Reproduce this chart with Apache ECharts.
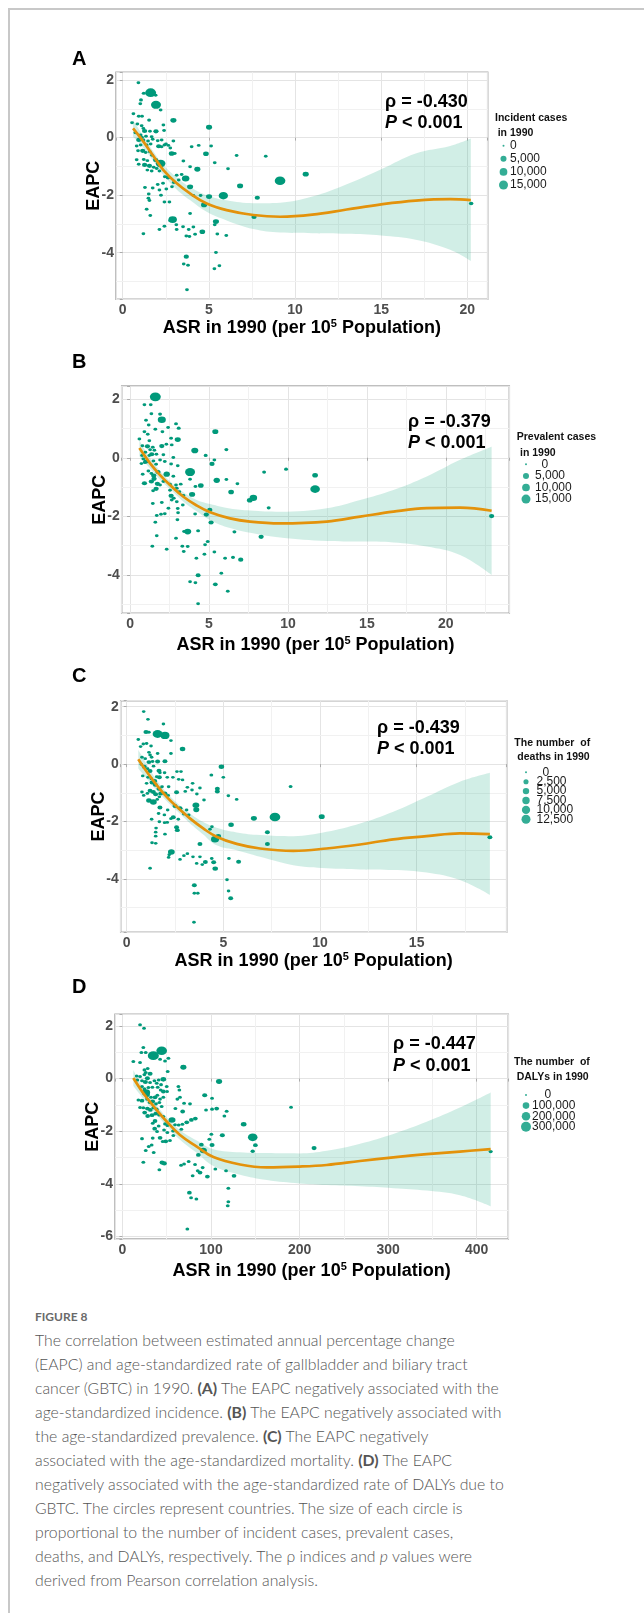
<!DOCTYPE html>
<html>
<head>
<meta charset="utf-8">
<title>Figure 8</title>
<script src="https://cdn.jsdelivr.net/npm/echarts@6/dist/echarts.min.js"></script>
<style>
  html, body { margin: 0; padding: 0; background: #fff; }
  #page { position: relative; width: 644px; height: 1613px; overflow: hidden; background: #fff; }
  #frame { position: absolute; left: 8px; top: 8px; width: 640px; height: 1610px;
           border-left: 2px solid #c8c8c8; border-top: 2px solid #c8c8c8; }
  #chart { position: absolute; left: 0; top: 0; width: 644px; height: 1290px; }
  #figlab { position: absolute; left: 35px; top: 1309px; line-height: 16px; font-size: 12px;
            font-family: Lato, "Noto Sans", sans-serif; font-weight: 700; color: #6a6a6a; }
  #cap { position: absolute; left: 35px; top: 1328px; line-height: 24px; font-size: 15.8px; white-space: nowrap;
         font-family: Lato, "Noto Sans", sans-serif; font-weight: 300; color: #555; }
  #cap b { font-weight: 700; }
</style>
</head>
<body>
<div id="page">
  <div id="frame"></div>
  <div id="chart"></div>
  <div id="figlab">FIGURE 8</div>
  <div id="cap">The correlation between estimated annual percentage change<br>(EAPC) and age-standardized rate of gallbladder and biliary tract<br>cancer (GBTC) in 1990. <b>(A)</b> The EAPC negatively associated with the<br>age-standardized incidence. <b>(B)</b> The EAPC negatively associated with<br>the age-standardized prevalence. <b>(C)</b> The EAPC negatively<br>associated with the age-standardized mortality. <b>(D)</b> The EAPC<br>negatively associated with the age-standardized rate of DALYs due to<br>GBTC. The circles represent countries. The size of each circle is<br>proportional to the number of incident cases, prevalent cases,<br>deaths, and DALYs, respectively. The &rho; indices and <i>p</i> values were<br>derived from Pearson correlation analysis.</div>
</div>
<script>
// ---- data: [ASR in 1990, EAPC, count in 1990] per country ----
var ptsA = [
  [0.91,1.91,300],[1.62,1.56,14000],[1.91,1.47,300],[1.22,1.54,400],[1.06,1.31,400],[1.02,1.18,300],
  [1.93,1.14,11000],[2.20,0.96,300],[0.62,0.83,300],[0.93,0.74,300],[1.12,0.74,300],[1.53,0.61,400],
  [2.94,0.60,2500],[0.54,0.52,300],[0.85,0.47,300],[1.10,0.41,300],[2.36,0.44,300],[5.01,0.36,2500],
  [1.20,0.32,300],[1.27,0.23,1500],[1.58,0.22,300],[1.93,0.22,1500],[2.40,0.25,300],[0.73,0.17,300],
  [1.04,0.09,300],[1.35,0.05,300],[1.68,0.03,300],[1.12,0.00,300],[0.93,-0.08,1500],[1.20,-0.08,300],
  [1.47,-0.12,300],[1.74,-0.06,300],[2.03,-0.11,300],[2.26,-0.08,300],[2.94,-0.12,300],[0.81,-0.29,300],
  [1.04,-0.26,300],[1.39,-0.26,300],[1.62,-0.22,300],[2.09,-0.30,1500],[2.26,-0.32,300],[2.42,-0.26,300],
  [2.51,-0.22,300],[2.65,-0.27,300],[2.76,-0.36,300],[4.00,-0.32,300],[4.41,-0.27,300],[5.13,-0.29,300],
  [0.89,-0.46,300],[1.16,-0.46,1500],[1.33,-0.52,300],[1.57,-0.49,300],[1.70,-0.61,300],[2.84,-0.55,2000],
  [3.02,-0.55,300],[4.83,-0.56,2000],[0.81,-0.77,300],[1.22,-0.76,300],[1.43,-0.80,300],[1.91,-0.78,1500],
  [3.52,-0.81,300],[5.34,-0.87,300],[6.61,-0.62,300],[8.30,-0.65,300],[0.93,-0.93,300],[1.27,-0.95,1500],
  [1.55,-0.98,1500],[1.80,-1.03,300],[2.20,-0.90,10000],[1.97,-1.07,300],[3.91,-1.01,300],[4.33,-1.10,2500],
  [6.11,-1.08,300],[1.43,-1.13,300],[1.68,-1.16,300],[2.13,-1.16,300],[2.44,-1.36,300],[2.63,-1.38,1500],
  [3.13,-1.31,300],[3.42,-1.28,300],[3.65,-1.42,5000],[2.96,-1.56,300],[3.25,-1.47,300],[2.03,-1.63,300],
  [2.34,-1.59,300],[2.53,-1.79,300],[2.86,-1.71,300],[3.91,-1.71,2500],[6.81,-1.68,2500],[1.29,-1.73,300],
  [1.74,-1.75,300],[2.13,-1.82,300],[1.51,-1.96,300],[2.22,-2.00,300],[4.10,-2.01,300],[4.52,-2.01,300],
  [5.01,-2.05,2500],[5.84,-2.02,9000],[7.81,-2.09,1500],[1.49,-2.11,300],[1.55,-2.19,300],[2.42,-2.24,300],
  [2.71,-2.24,300],[4.72,-2.34,2500],[1.39,-2.49,300],[1.60,-2.71,300],[3.91,-2.64,300],[7.62,-2.76,1500],
  [2.90,-2.85,7000],[2.75,-2.89,300],[2.42,-3.08,300],[3.11,-3.03,300],[3.50,-3.10,300],[4.10,-3.11,300],
  [2.13,-3.19,300],[5.41,-2.92,2500],[5.34,-3.03,300],[3.13,-3.19,300],[3.83,-3.19,300],[4.62,-3.27,2000],
  [1.20,-3.34,300],[3.69,-3.42,300],[3.87,-3.44,300],[4.20,-3.36,300],[5.49,-3.35,300],[6.01,-3.40,300],
  [5.41,-3.99,300],[3.69,-4.14,1500],[3.54,-4.39,300],[3.79,-4.44,300],[5.61,-4.45,300],[5.32,-4.56,300],
  [3.73,-5.29,300],[9.13,-1.50,13000],[10.62,-1.27,2500],[20.22,-2.29,800]
];
var ptsB = [
  [1.60,2.08,14000],[0.91,1.81,300],[1.31,1.81,300],[1.35,1.50,300],[1.90,1.49,400],[1.01,1.28,300],
  [2.01,1.30,6000],[2.91,1.16,400],[1.18,1.12,300],[1.60,0.97,300],[2.41,1.03,300],[3.08,1.01,400],
  [0.91,0.89,300],[2.05,0.89,300],[1.12,0.80,300],[5.40,0.89,2500],[0.59,0.64,300],[1.22,0.58,300],
  [2.60,0.67,300],[3.02,0.62,2500],[0.78,0.41,300],[1.10,0.39,1500],[1.44,0.36,300],[2.01,0.40,1500],
  [2.64,0.44,300],[2.30,0.46,300],[4.10,0.25,4000],[6.10,0.28,400],[0.97,0.19,300],[1.27,0.27,300],
  [1.54,0.26,300],[0.76,0.08,300],[0.84,-0.04,300],[1.01,-0.13,1500],[1.22,0.08,300],[1.37,0.12,1500],
  [1.67,0.12,300],[2.11,0.10,300],[2.74,0.01,300],[4.79,0.08,400],[0.93,-0.16,300],[0.72,-0.20,300],
  [1.48,-0.11,300],[1.65,-0.22,300],[1.90,-0.08,300],[2.20,-0.13,300],[2.60,-0.21,300],[3.02,-0.27,300],
  [5.19,-0.21,1500],[5.34,-0.08,300],[3.80,-0.49,11000],[8.49,-0.49,400],[0.80,-0.56,300],[1.16,-0.45,300],
  [1.35,-0.54,300],[1.50,-0.61,1500],[1.77,-0.49,1500],[2.32,-0.56,3000],[2.74,-0.63,300],[3.80,-0.73,300],
  [1.35,-0.81,1500],[1.52,-0.72,1500],[1.73,-0.89,1500],[0.91,-0.87,1500],[1.90,-0.93,300],[2.11,-0.81,300],
  [2.53,-0.90,300],[2.91,-0.93,300],[3.21,-0.90,300],[4.14,-0.98,300],[4.48,-0.95,2000],[5.49,-0.77,3000],
  [6.10,-0.74,300],[6.80,-0.89,300],[6.40,-1.17,2000],[1.46,-1.13,300],[1.65,-1.06,1500],[2.53,-1.11,300],
  [2.96,-1.04,300],[3.12,-1.16,300],[3.93,-1.25,2500],[3.38,-1.29,300],[2.60,-1.30,1500],[2.77,-1.38,300],
  [7.58,-1.45,2000],[7.81,-1.37,5000],[1.44,-1.56,300],[2.01,-1.53,300],[2.64,-1.44,300],[2.96,-1.50,300],
  [3.34,-1.61,300],[2.43,-1.72,300],[3.02,-1.73,300],[5.05,-1.78,1500],[8.78,-1.71,400],[1.69,-1.97,300],
  [1.96,-1.93,300],[2.20,-1.91,300],[3.04,-1.88,300],[4.12,-1.92,300],[4.83,-1.94,1500],[5.13,-2.21,1500],
  [3.00,-2.12,300],[1.60,-2.20,300],[3.65,-2.52,4000],[3.42,-2.52,300],[4.31,-2.49,400],[6.61,-2.53,400],
  [8.30,-2.70,1500],[1.69,-2.66,300],[2.91,-2.75,300],[4.92,-2.86,400],[1.41,-3.02,300],[2.32,-3.12,300],
  [3.31,-3.02,300],[3.65,-3.03,300],[4.75,-2.97,300],[3.40,-3.20,300],[4.20,-3.43,300],[4.71,-3.29,300],
  [5.34,-3.22,300],[6.02,-3.43,300],[6.52,-3.40,400],[7.01,-3.48,1500],[5.78,-3.94,300],[4.31,-4.01,1200],
  [3.80,-4.23,300],[4.14,-4.27,300],[5.40,-4.32,1000],[6.19,-4.56,300],[4.31,-4.98,300],
  [9.88,-0.39,400],[11.72,-0.60,2000],[11.72,-1.07,10000],[22.90,-1.99,1500]
];
var ptsC = [
  [0.88,1.83,200],[1.10,1.56,200],[1.90,1.40,200],[1.00,1.12,1200],[1.15,1.11,200],[1.60,1.05,9000],
  [1.98,1.00,7000],[2.29,0.82,200],[0.60,0.86,200],[1.03,0.72,200],[2.89,0.53,1500],[0.86,0.70,200],
  [0.72,0.61,200],[1.26,0.63,200],[1.60,0.37,200],[2.29,0.37,200],[1.15,0.41,200],[1.21,0.32,200],
  [0.79,0.24,200],[0.96,0.19,200],[1.29,0.24,200],[1.15,0.07,1000],[1.34,0.09,200],[1.60,0.09,1000],
  [1.98,0.10,1000],[0.76,-0.01,200],[0.91,-0.09,1000],[1.08,-0.16,200],[1.21,-0.24,1000],[1.39,-0.07,200],
  [1.67,-0.23,1000],[1.72,-0.30,200],[1.96,-0.30,200],[2.60,-0.26,200],[2.81,-0.26,200],[4.90,-0.09,1500],
  [5.00,-0.46,200],[4.38,-0.38,300],[0.83,-0.41,200],[1.10,-0.46,200],[1.27,-0.51,200],[1.45,-0.59,1000],
  [1.55,-0.44,200],[1.69,-0.46,1000],[2.10,-0.46,200],[2.39,-0.46,200],[2.69,-0.53,200],[2.89,-0.55,200],
  [3.41,-0.67,200],[1.03,-0.67,200],[1.31,-0.64,1000],[1.48,-0.72,1000],[1.83,-0.79,200],[1.67,-0.86,1000],
  [2.17,-0.79,200],[3.14,-0.81,200],[3.38,-0.90,200],[3.79,-0.83,200],[4.69,-0.86,1000],[4.69,-0.95,1000],
  [5.26,-1.10,200],[5.69,-1.23,200],[0.79,-0.97,200],[1.07,-1.02,200],[0.88,-1.09,200],[1.21,-0.93,1000],
  [1.38,-0.97,1000],[1.50,-1.05,1000],[1.76,-1.02,1000],[1.69,-1.14,200],[1.98,-1.02,1000],[2.15,-1.09,200],
  [2.58,-0.98,1000],[3.03,-0.95,200],[3.63,-1.04,200],[4.00,-1.25,200],[1.15,-1.27,1500],[1.38,-1.32,3000],
  [1.58,-1.23,200],[1.72,-1.51,1000],[2.12,-1.60,200],[2.50,-1.46,1000],[2.76,-1.54,1000],[3.10,-1.60,200],
  [3.21,-1.77,200],[3.58,-1.43,3000],[3.60,-1.59,2000],[1.65,-1.72,200],[1.95,-1.77,200],[2.29,-1.90,200],
  [2.41,-1.85,1000],[2.67,-1.92,200],[1.29,-1.92,200],[1.69,-2.01,200],[1.96,-2.04,200],[2.10,-2.03,200],
  [2.58,-2.20,1000],[2.62,-2.30,1000],[2.95,-1.74,200],[3.65,-1.60,200],[4.31,-2.27,200],[4.41,-2.18,200],
  [6.58,-1.89,2000],[7.67,-1.84,11000],[5.40,-2.11,1500],[1.52,-2.23,200],[1.50,-2.37,200],[1.50,-2.51,200],
  [1.98,-2.44,200],[7.28,-2.37,1000],[4.74,-2.51,1500],[4.57,-2.62,5000],[3.79,-2.78,1000],[7.28,-2.78,1000],
  [1.31,-2.74,200],[1.50,-2.76,200],[2.31,-3.06,3000],[2.20,-3.16,200],[2.17,-3.25,200],[2.76,-3.32,200],
  [2.96,-3.19,200],[3.14,-3.12,200],[3.43,-3.23,200],[3.62,-3.46,200],[3.79,-3.23,200],[4.07,-3.41,1000],
  [4.40,-3.29,200],[4.50,-3.42,1000],[4.58,-3.64,1500],[3.91,-3.50,200],[5.29,-3.29,200],[5.79,-3.40,1000],
  [1.21,-3.63,200],[5.19,-4.03,200],[3.50,-4.22,1000],[3.50,-4.50,200],[3.68,-4.50,200],[5.27,-4.42,200],
  [5.38,-4.67,1000],[3.48,-5.51,200],[8.48,-0.78,300],[10.09,-1.83,2000],[18.79,-2.55,1000]
];
var ptsD = [
  [19.9,2.04,5000],[24.4,1.91,5000],[23.6,1.18,5000],[21.4,0.99,5000],[26.3,0.99,5000],[34.9,0.87,220000],
  [44.3,1.06,200000],[42.5,0.73,5000],[48.1,0.67,5000],[51.9,0.77,5000],[12.3,0.65,5000],[19.9,0.61,5000],
  [68.8,0.43,40000],[24.8,0.33,5000],[28.5,0.38,5000],[26.3,0.23,5000],[31.2,0.18,20000],[51.1,0.27,5000],
  [16.1,0.10,5000],[19.9,0.08,5000],[24.8,0.15,5000],[28.2,0.01,20000],[46.2,-0.03,30000],[109.1,-0.11,40000],
  [16.9,-0.05,5000],[22.1,-0.08,5000],[25.9,-0.13,20000],[31.2,-0.15,5000],[36.1,-0.08,5000],[40.9,-0.05,5000],
  [38.7,-0.18,5000],[43.6,-0.23,5000],[63.2,-0.30,5000],[64.3,-0.43,5000],[50.0,-0.30,5000],[22.1,-0.30,5000],
  [24.8,-0.39,5000],[29.3,-0.34,5000],[33.8,-0.33,5000],[39.8,-0.33,5000],[43.2,-0.43,5000],[46.2,-0.49,15000],
  [50.4,-0.49,5000],[26.6,-0.53,100000],[28.2,-0.62,20000],[32.3,-0.71,5000],[36.8,-0.71,15000],[39.4,-0.63,5000],
  [42.5,-0.78,5000],[46.2,-0.71,5000],[62.0,-0.78,5000],[65.0,-0.71,5000],[92.9,-0.63,20000],[101.2,-0.75,5000],
  [18.0,-0.81,5000],[22.1,-0.84,15000],[27.8,-0.78,5000],[30.8,-0.91,5000],[34.2,-0.87,15000],[37.9,-0.96,5000],
  [41.7,-0.91,5000],[69.6,-0.94,5000],[76.3,-0.96,5000],[19.9,-1.10,5000],[23.6,-1.11,5000],[28.2,-1.14,15000],
  [31.5,-1.19,15000],[34.9,-1.11,5000],[38.7,-1.16,5000],[44.3,-1.06,5000],[59.8,-1.14,5000],[94.4,-1.19,5000],
  [101.2,-1.16,5000],[106.4,-1.14,15000],[68.0,-1.25,15000],[117.7,-1.24,5000],[25.1,-1.29,15000],[28.5,-1.42,15000],
  [33.4,-1.39,15000],[37.6,-1.33,15000],[41.3,-1.38,5000],[46.2,-1.44,5000],[56.0,-1.57,60000],[63.5,-1.76,5000],
  [72.6,-1.66,15000],[77.8,-1.57,15000],[82.3,-1.52,15000],[115.1,-1.42,5000],[36.8,-1.61,15000],[34.2,-1.70,5000],
  [40.9,-1.80,5000],[48.1,-1.72,5000],[50.7,-1.78,5000],[59.4,-1.75,5000],[67.7,-1.73,5000],[136.9,-1.73,30000],
  [36.4,-1.90,15000],[39.1,-2.01,5000],[47.0,-1.95,5000],[50.7,-2.05,5000],[57.1,-1.99,5000],[66.5,-1.92,5000],
  [100.4,-2.11,5000],[112.8,-2.15,20000],[22.1,-2.28,5000],[34.2,-2.26,5000],[42.5,-2.25,15000],[45.5,-2.39,5000],
  [48.9,-2.38,15000],[53.7,-2.35,5000],[57.5,-2.16,5000],[98.1,-2.30,5000],[147.1,-2.23,150000],[33.0,-2.52,5000],
  [29.7,-2.58,5000],[26.3,-2.73,5000],[35.3,-2.81,5000],[89.1,-2.51,15000],[101.2,-2.52,20000],[150.1,-2.53,15000],
  [91.4,-2.73,60000],[85.7,-2.90,15000],[147.1,-2.76,10000],[23.6,-3.18,5000],[44.7,-3.19,20000],[47.3,-3.22,20000],
  [41.7,-3.46,5000],[66.2,-3.29,5000],[69.6,-3.24,5000],[74.8,-3.15,5000],[82.0,-3.26,5000],[85.0,-3.50,5000],
  [87.6,-3.57,15000],[90.6,-3.38,5000],[95.9,-3.72,15000],[104.9,-3.43,5000],[117.0,-3.50,5000],[126.0,-3.69,15000],
  [79.3,-3.69,5000],[75.6,-4.33,15000],[77.5,-4.52,5000],[83.5,-4.57,5000],[119.6,-4.16,5000],[119.6,-4.68,5000],
  [118.9,-4.83,5000],[73.3,-5.71,5000],[190.4,-1.09,5000],[216.4,-2.64,20000],[415.8,-2.77,8000]
];

// ---- fitted curve with 95% band ----
var fitXA = [0.6, 1.2, 1.78, 2.36, 3.13, 3.9, 4.87, 6.03, 7.58, 9.13, 11, 13, 15, 17, 19, 20.2];
var fitA  = [0.32, -0.14, -0.64, -1.13, -1.59, -1.94, -2.29, -2.52, -2.69, -2.75, -2.68, -2.5, -2.32, -2.19, -2.14, -2.17];
var uprA  = [0.6, 0.05, -0.48, -0.95, -1.38, -1.72, -2.0, -2.18, -2.28, -2.26, -2.05, -1.62, -1.1, -0.55, -0.29, -0.03];
var lwrA  = [0.03, -0.35, -0.82, -1.3, -1.8, -2.17, -2.58, -2.88, -3.18, -3.3, -3.32, -3.34, -3.4, -3.55, -3.9, -4.29];

var fitXB = [0.59, 1.27, 1.9, 2.53, 3.38, 4.22, 5.07, 6.33, 7.6, 9.5, 12.46, 14.57, 16.68, 18.79, 20.9, 22.9];
var fitB  = [0.33, -0.19, -0.59, -0.93, -1.33, -1.63, -1.86, -2.07, -2.18, -2.24, -2.18, -2.01, -1.84, -1.72, -1.7, -1.81];
var uprB  = [0.6, -0.02, -0.45, -0.8, -1.18, -1.44, -1.58, -1.73, -1.8, -1.84, -1.72, -1.44, -1.1, -0.64, -0.07, 0.38];
var lwrB  = [0.05, -0.37, -0.75, -1.07, -1.5, -1.83, -2.13, -2.4, -2.56, -2.72, -2.84, -2.86, -2.89, -3.03, -3.32, -4.0];

var fitXC = [0.6, 1.03, 1.55, 2.07, 2.58, 3.27, 3.96, 4.65, 5.69, 6.9, 8.62, 10.34, 12.07, 13.79, 15.52, 17.24, 18.79];
var fitC  = [0.17, -0.26, -0.73, -1.14, -1.48, -1.89, -2.24, -2.53, -2.78, -2.94, -3.02, -2.94, -2.8, -2.62, -2.51, -2.41, -2.44];
var uprC  = [0.5, 0.0, -0.55, -0.99, -1.34, -1.72, -2.02, -2.22, -2.38, -2.47, -2.51, -2.36, -2.07, -1.66, -1.14, -0.61, -0.3];
var lwrC  = [-0.15, -0.5, -0.91, -1.29, -1.62, -2.06, -2.45, -2.83, -3.0, -3.23, -3.52, -3.63, -3.67, -3.69, -3.78, -4.04, -4.56];

var fitXD = [12.3, 23.6, 34.9, 50, 65, 83.9, 102.7, 132.8, 163, 199.8, 230.6, 268.3, 305.9, 343.5, 381.1, 415.8];
var fitD  = [0.02, -0.56, -1.04, -1.63, -2.14, -2.58, -2.98, -3.26, -3.37, -3.34, -3.28, -3.13, -2.99, -2.87, -2.77, -2.68];
var uprD  = [0.33, -0.36, -0.86, -1.47, -1.96, -2.35, -2.68, -2.8, -2.83, -2.84, -2.74, -2.47, -2.1, -1.64, -1.1, -0.53];
var lwrD  = [-0.28, -0.76, -1.22, -1.8, -2.32, -2.82, -3.32, -3.65, -3.85, -3.98, -4.04, -4.09, -4.16, -4.25, -4.43, -4.85];

// ---- size legend breaks ----
var legA = [0, 5000, 10000, 15000];
var legB = [0, 5000, 10000, 15000];
var legC = [0, 2500, 5000, 7500, 10000, 12500];
var legD = [0, 100000, 200000, 300000];

var rhoText = ['-0.430', '-0.379', '-0.439', '-0.447'];
var legTitles = [
  ['Incident cases', 'in 1990'],
  ['Prevalent cases', 'in 1990'],
  ['The number  of', 'deaths in 1990'],
  ['The number  of', 'DALYs in 1990']
];

var GREEN = '#00997A';
var ORANGE = '#E3920B';
var BAND = 'rgba(0,158,115,0.18)';
var FONT = '"Liberation Sans", Arial, Helvetica, sans-serif';

// layout of the four panels (pixels), axis ranges and legend placement
var panels = [
  { letter: 'A', pts: ptsA, fx: fitXA, fy: fitA, up: uprA, lo: lwrA, leg: legA, maxV: 15000, maxD: 9,
    grid: { left: 116, top: 72.3, width: 371.7, height: 227 }, xr: [-0.39, 21.18], yr: [-5.62, 2.27],
    xStep: 5, xSplit: 5, minorX: [2.5, 7.5, 12.5, 17.5], minorY: [-5, -3, -1, 1],
    letterTop: 49, rho: { left: 385, top: 91 }, nameGap: 19,
    legTitle: [[495, 117.7], [497.7, 133]], legGrid: { left: 497, top: 139.2, width: 13, height: 52.4 }, legMargin: 0, zeroPad: 0 },
  { letter: 'B', pts: ptsB, fx: fitXB, fy: fitB, up: uprB, lo: lwrB, leg: legB, maxV: 15000, maxD: 9,
    grid: { left: 121.7, top: 386, width: 387.6, height: 227.3 }, xr: [-0.53, 24.02], yr: [-5.31, 2.45],
    xStep: 5, xSplit: 5, minorX: [2.5, 7.5, 12.5, 17.5, 22.5], minorY: [-5, -3, -1, 1],
    letterTop: 352, rho: { left: 408, top: 411 }, nameGap: 22,
    legTitle: [[516.7, 437.3], [520, 452.7]], legGrid: { left: 519.5, top: 458.5, width: 13, height: 46.4 }, legMargin: 2.5, zeroPad: 6.5 },
  { letter: 'C', pts: ptsC, fx: fitXC, fy: fitC, up: uprC, lo: lwrC, leg: legC, maxV: 12500, maxD: 9,
    grid: { left: 120.7, top: 700.7, width: 386, height: 231.6 }, xr: [-0.31, 19.66], yr: [-5.86, 2.21],
    xStep: 5, xSplit: 4, minorX: [2.5, 7.5, 12.5, 17.5], minorY: [-5, -3, -1, 1],
    letterTop: 666, rho: { left: 377, top: 717 }, nameGap: 17,
    legTitle: [[514.3, 743.3], [517.3, 756.7]], legGrid: { left: 519.5, top: 767.6, width: 13, height: 56.4 }, legMargin: 4, zeroPad: 6 },
  { letter: 'D', pts: ptsD, fx: fitXD, fy: fitD, up: uprD, lo: lwrD, leg: legD, maxV: 300000, maxD: 10,
    grid: { left: 115, top: 1014.3, width: 393.3, height: 224.7 }, xr: [-8.4, 435.7], yr: [-6.09, 2.44],
    xStep: 100, xSplit: 5, minorX: [50, 150, 250, 350], minorY: [-5, -3, -1, 1],
    letterTop: 977, rho: { left: 393, top: 1033.4 }, nameGap: 22,
    legTitle: [[514, 1062.3], [516.7, 1076.7]], legGrid: { left: 520, top: 1089.7, width: 12, height: 42.4 }, legMargin: 0, zeroPad: 12.5 }
];

function dotSize(v, p) {
  return 2 + (p.maxD - 2) * Math.sqrt(v / p.maxV);
}

function stepFormatter(step) {
  return function (v) {
    var k = v / step;
    return Math.abs(k - Math.round(k)) < 1e-6 ? String(Math.round(v)) : '';
  };
}

var option = {
  animation: false,
  textStyle: { fontFamily: FONT },
  title: [], grid: [], xAxis: [], yAxis: [], series: []
};

panels.forEach(function (p, i) {
  var gi = option.grid.length;
  option.grid.push(Object.assign({ show: true, borderColor: '#ababab', borderWidth: 1.5, containLabel: false }, p.grid));

  option.xAxis.push({
    type: 'value', gridIndex: gi, min: p.xr[0], max: p.xr[1], splitNumber: p.xSplit,
    axisLine: { show: false },
    axisTick: { show: true, length: 3, lineStyle: { color: '#ababab', width: 1 } },
    axisLabel: { margin: 4, color: '#4d4d4d', fontWeight: 'bold', fontSize: 14, fontFamily: FONT, formatter: stepFormatter(p.xStep) },
    splitLine: { show: true, lineStyle: { color: '#e4e4e4', width: 1 } },
    name: 'ASR in 1990 (per 10{s|5} Population)', nameLocation: 'middle', nameGap: p.nameGap,
    nameTextStyle: { color: '#000', fontWeight: 'bold', fontSize: 18, fontFamily: FONT, lineHeight: 20,
      rich: { s: { fontSize: 11, fontWeight: 'bold', fontFamily: FONT, color: '#000', lineHeight: 11, verticalAlign: 'top' } } }
  });
  option.yAxis.push({
    type: 'value', gridIndex: gi, min: p.yr[0], max: p.yr[1], splitNumber: 5,
    axisLine: { show: false },
    axisTick: { show: true, length: 3, lineStyle: { color: '#ababab', width: 1 } },
    axisLabel: { margin: 2, color: '#4d4d4d', fontWeight: 'bold', fontSize: 14, fontFamily: FONT, formatter: stepFormatter(2) },
    splitLine: { show: true, lineStyle: { color: '#e4e4e4', width: 1 } },
    name: 'EAPC', nameLocation: 'middle', nameGap: 13, nameMoveOverlap: false,
    nameTextStyle: { color: '#000', fontWeight: 'bold', fontSize: 18, fontFamily: FONT }
  });

  // confidence band: lower edge + stacked width.
  // Columns are [value, x] with encode so that the stacked dimension is y.
  option.series.push({
    type: 'line', xAxisIndex: gi, yAxisIndex: gi, stack: 'ci' + i, stackStrategy: 'all',
    encode: { x: 1, y: 0 },
    data: p.fx.map(function (x, k) { return [p.lo[k], x]; }),
    symbol: 'none', smooth: 0.4, lineStyle: { opacity: 0 }, silent: true, z: 2
  });
  option.series.push({
    type: 'line', xAxisIndex: gi, yAxisIndex: gi, stack: 'ci' + i, stackStrategy: 'all',
    encode: { x: 1, y: 0 },
    data: p.fx.map(function (x, k) { return [p.up[k] - p.lo[k], x]; }),
    symbol: 'none', smooth: 0.4, lineStyle: { opacity: 0 }, areaStyle: { color: BAND, opacity: 1 }, silent: true, z: 2
  });
  option.series.push({
    type: 'scatter', xAxisIndex: gi, yAxisIndex: gi, data: p.pts,
    symbolSize: function (val) { var d = dotSize(val[2], p); return [d * 1.25, d]; },
    itemStyle: { color: GREEN, opacity: 1 }, z: 3
  });
  option.series.push({
    type: 'line', xAxisIndex: gi, yAxisIndex: gi,
    data: p.fx.map(function (x, k) { return [x, p.fy[k]]; }),
    symbol: 'none', smooth: 0.4, lineStyle: { color: ORANGE, width: 2.7 }, z: 4,
    markLine: {
      silent: true, symbol: ['none', 'none'], z: 1, animation: false,
      label: { show: false },
      lineStyle: { color: '#f1f1f1', width: 1, type: 'solid' },
      data: p.minorX.map(function (v) { return { xAxis: v }; }).concat(p.minorY.map(function (v) { return { yAxis: v }; }))
    }
  });

  // panel letter and correlation text
  option.title.push({ text: p.letter, left: 72, top: p.letterTop, padding: 0,
    textStyle: { fontSize: 20, fontWeight: 'bold', color: '#000', fontFamily: FONT, lineHeight: 20 } });
  option.title.push({
    text: '{b|\u03c1 = ' + rhoText[i] + '}\n{i|P}{b| < 0.001}', left: p.rho.left, top: p.rho.top, padding: 0,
    textStyle: { rich: {
      b: { fontSize: 18, fontWeight: 'bold', color: '#000', fontFamily: FONT, lineHeight: 21.6 },
      i: { fontSize: 18, fontWeight: 'bold', fontStyle: 'italic', color: '#000', fontFamily: FONT, lineHeight: 21.6 } } }
  });

  // size legend
  legTitles[i].forEach(function (t, k) {
    option.title.push({ text: t, left: p.legTitle[k][0], top: p.legTitle[k][1] - 7, padding: 0,
      textStyle: { fontSize: 10.5, fontWeight: 'bold', color: '#111', fontFamily: FONT, lineHeight: 14 } });
  });
  var lg = option.grid.length;
  option.grid.push(Object.assign({ show: false }, p.legGrid));
  var labels = p.leg.map(function (v) { return v.toLocaleString('en-US'); });
  option.xAxis.push({ type: 'value', gridIndex: lg, min: -1, max: 1, show: false });
  option.yAxis.push({
    type: 'category', gridIndex: lg, data: labels, inverse: true, position: 'right',
    axisLine: { show: false }, axisTick: { show: false }, splitLine: { show: false },
    axisLabel: { interval: 0, hideOverlap: false, margin: p.legMargin, fontSize: 12, color: '#1a1a1a', fontFamily: FONT, align: 'left',
      formatter: function (v) { return v === '0' ? '{z|0}' : v; },
      rich: { z: { padding: [0, 0, 0, p.zeroPad], fontSize: 12, color: '#1a1a1a', fontFamily: FONT } } }
  });
  option.series.push({
    type: 'scatter', xAxisIndex: lg, yAxisIndex: lg, silent: true,
    data: p.leg.map(function (v, k) { return [0, k, v]; }),
    symbolSize: function (val) { return dotSize(val[2], p); },
    itemStyle: { color: GREEN }
  });
});

var chart = echarts.init(document.getElementById('chart'), null, { renderer: 'canvas' });
chart.setOption(option);
</script>
</body>
</html>
